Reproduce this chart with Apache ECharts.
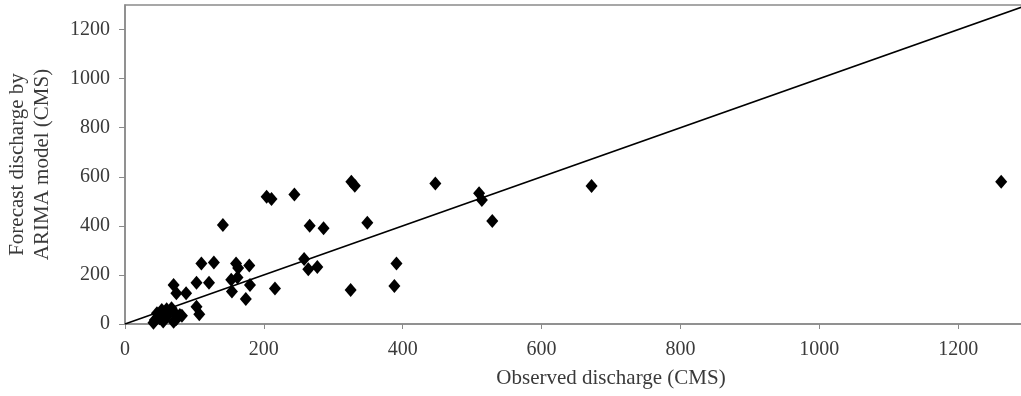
<!DOCTYPE html>
<html>
<head>
<meta charset="utf-8">
<script src="https://cdn.jsdelivr.net/npm/echarts@6/dist/echarts.min.js"></script>
<style>html,body{margin:0;padding:0;background:#fff}#c{width:1021px;height:396px}</style>
</head>
<body>
<div id="c"></div>
<script>
// Observed discharge (CMS)
const observed = [41,43,46,48,50,53,55,57,60,60,63,67,70,72,74,79,82,
  70,74,88,103,121,110,128,103,107,141,153,162,154,160,163,179,180,174,
  216,204,211,244,258,264,277,266,286,325,326,331,349,388,391,447,510,514,529,672,1262];
// Forecast discharge by ARIMA model (CMS)
const forecast = [5,16,44,30,23,57,10,40,60,30,48,64,9,44,20,37,34,
  159,125,125,168,168,247,251,70,40,403,180,190,132,247,228,238,159,102,
  145,519,509,528,265,223,232,400,390,139,580,563,413,155,247,573,533,505,420,562,580];
const xTicks = [0,200,400,600,800,1000,1200,1400];
const yTicks = [0,200,400,600,800,1000,1200];
const lineEnds = [0,1400]; // 1:1 line

const pts = observed.map((v,i)=>[v,forecast[i]]);
const font = 'Liberation Serif';
const chart = echarts.init(document.getElementById('c'));
chart.setOption({
  animation:false,
  grid:{left:125, top:5, width:972, height:319, show:true, borderColor:'#8a8a8a', borderWidth:1.5,
        outerBoundsMode:'none', containLabel:false},
  xAxis:{type:'value', min:0, max:1400, interval:200,
    name:'Observed discharge (CMS)', nameLocation:'middle', nameGap:44,
    nameTextStyle:{fontFamily:font, fontSize:21, color:'#3a3a3a'},
    axisLine:{lineStyle:{color:'#8a8a8a', width:1.5}},
    axisTick:{length:5, lineStyle:{color:'#8a8a8a'}, customValues:xTicks},
    axisLabel:{fontFamily:font, fontSize:20, color:'#3a3a3a', margin:16, customValues:xTicks,
      formatter:v=>String(v)},
    splitLine:{show:false}},
  yAxis:{type:'value', min:0, max:1300,
    name:'Forecast discharge by\nARIMA model (CMS)', nameLocation:'middle', nameGap:70, nameRotate:90,
    nameTextStyle:{fontFamily:font, fontSize:21, color:'#3a3a3a', lineHeight:25},
    axisLine:{lineStyle:{color:'#8a8a8a', width:1.5}},
    axisTick:{length:6, lineStyle:{color:'#8a8a8a'}, customValues:yTicks},
    axisLabel:{fontFamily:font, fontSize:20, color:'#3a3a3a', margin:15, customValues:yTicks,
      formatter:v=>String(v)},
    splitLine:{show:false}},
  series:[
    {type:'line', data:lineEnds.map(v=>[v,v]), symbol:'none', clip:true,
     lineStyle:{color:'#000', width:1.6}, z:2},
    {type:'scatter', data:pts, symbol:'diamond', symbolSize:[12,14],
     itemStyle:{color:'#000', opacity:1}, z:3}
  ]
});
</script>
</body>
</html>
